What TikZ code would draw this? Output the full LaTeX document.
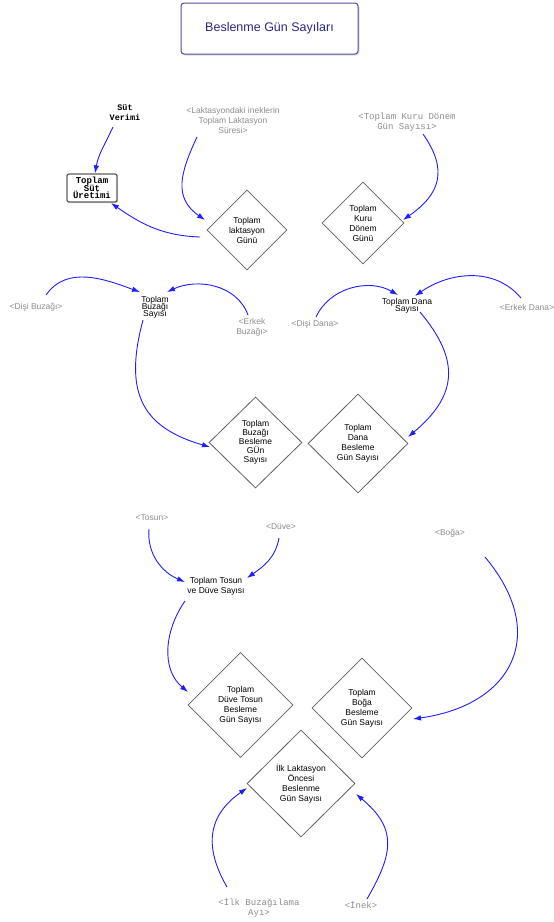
\documentclass[tikz,border=0pt]{standalone}
\usepackage{fontspec}
\setmainfont{Liberation Sans}
\setmonofont{Liberation Mono}
\usetikzlibrary{shapes.geometric,arrows.meta,shadows}
\definecolor{arrblue}{RGB}{30,30,255}
\definecolor{lblgray}{RGB}{140,140,140}
\definecolor{diamgray}{RGB}{95,95,95}
\definecolor{titleblue}{RGB}{80,80,160}
\definecolor{titletext}{RGB}{40,40,130}
\newcommand{\myneglskip}{\lineskiplimit=-20pt\relax}
\begin{document}
\begin{tikzpicture}[x=1pt,y=1pt,
  every node/.style={align=center, inner sep=1pt},
  lbl/.style={text=lblgray, font=\fontsize{8.5}{10}\selectfont},
  monolbl/.style={text=lblgray, font=\ttfamily\fontsize{9}{10}\selectfont},
  var/.style={font=\fontsize{8.5}{10}\selectfont},
  tight/.style={font={\fontsize{8.5}{7}\selectfont\myneglskip}},
  diam/.style={diamond, draw=diamgray, line width=0.8pt, inner sep=0pt, font=\fontsize{8.5}{10}\selectfont},
  arr/.style={draw=arrblue, line width=0.9pt, -{Latex[length=8pt,width=5.5pt]}},
  titlebox/.style={draw=titleblue, line width=1pt, rounded corners=3pt, fill=white,
    minimum width=177pt, minimum height=51pt, text=titletext, font=\fontsize{12.5}{14}\selectfont,
    drop shadow={opacity=0.3, shadow xshift=1.5pt, shadow yshift=-1.5pt}},
  levelbox/.style={draw=gray!75!black, line width=1.3pt, rounded corners=2pt, fill=white,
    minimum width=50pt, minimum height=28pt, inner sep=0pt,
    font={\ttfamily\bfseries\fontsize{9}{7.5}\selectfont\myneglskip},
    drop shadow={opacity=0.3, shadow xshift=1pt, shadow yshift=-1pt}},
]
\useasboundingbox (0,0) rectangle (554,-922);

% title
\node[titlebox] (title) at (269.5,-28.5) {Beslenme Gün Sayıları};

% row 1
\node[font=\ttfamily\bfseries\fontsize{8.5}{10}\selectfont] (sutv) at (125,-113) {Süt\\Verimi};
\node[levelbox] (surt) at (92,-188) {Toplam\\Süt\\Üretimi};
\node[lbl] (lak) at (233,-120) {<Laktasyondaki ineklerin\\Toplam Laktasyon\\Süresi>};
\node[diam, minimum width=80pt, minimum height=80pt] (dlak) at (247,-230) {Toplam\\laktasyon\\Günü};
\node[monolbl] (kuru) at (407,-122) {<Toplam Kuru Dönem\\Gün Sayısı>};
\node[diam, minimum width=82pt, minimum height=82pt] (dkuru) at (363,-223) {Toplam\\Kuru\\Dönem\\Günü};

% row 2
\node[lbl] (dbuz) at (36,-307) {<Dişi Buzağı>};
\node[tight] (tbuz) at (155,-307) {Toplam\\Buzağı\\Sayısı};
\node[lbl] (ebuz) at (252,-327) {<Erkek\\Buzağı>};
\node[diam, minimum width=93pt, minimum height=91pt, font=\fontsize{8.5}{9}\selectfont] (dbz) at (255.5,-442.5) {Toplam\\Buzağı\\Besleme\\GÜn\\Sayısı};
\node[lbl] (ddana) at (315,-324) {<Dişi Dana>};
\node[tight] (tdana) at (407,-306) {Toplam Dana\\Sayısı};
\node[lbl] (edana) at (527,-307) {<Erkek Dana>};
\node[diam, minimum width=100pt, minimum height=99pt] (dda) at (358,-443.5) {Toplam\\Dana\\Besleme\\Gün Sayısı};

% row 3
\node[lbl] (tosun) at (152,-518) {<Tosun>};
\node[lbl] (duve) at (281,-527) {<Düve>};
\node[var] (ttd) at (216,-586) {Toplam Tosun\\ve Düve Sayısı};
\node[diam, minimum width=105pt, minimum height=105pt] (dtd) at (240.5,-705) {Toplam\\Düve Tosun\\Besleme\\Gün Sayısı};
\node[lbl] (boga) at (450,-533) {<Boğa>};
\node[diam, minimum width=100pt, minimum height=100pt] (dbg) at (362,-708) {Toplam\\Boğa\\Besleme\\Gün Sayısı};

% row 4
\node[diam, minimum width=108pt, minimum height=107pt] (dilk) at (301,-783.5) {İlk Laktasyon\\Öncesi\\Beslenme\\Gün Sayısı};
\node[monolbl] (ilkb) at (259,-908) {<İlk Buzağılama\\Ayı>};
\node[monolbl] (inek) at (361,-905) {<İnek>};

% connectors
\draw[arr] ([shift={(-12,-14)}]sutv.center) to[out=-115,in=80] ([shift={(3,0)}]surt.north);
\draw[arr] ([shift={(-36,-17)}]lak.center) to[out=-115,in=145,looseness=1.2] ([shift={(-42,10)}]dlak.center);
\draw[arr] ([shift={(-47,-7)}]dlak.center) to[out=178,in=-35] ([shift={(19,-15)}]surt.center);
\draw[arr] ([shift={(16,-12)}]kuru.center) to[out=-55,in=35,looseness=1.3] ([shift={(40,3)}]dkuru.center);

\draw[arr] ([shift={(10,12)}]dbuz.center) to[out=55,in=160] ([shift={(-15,15)}]tbuz.center);
\draw[arr] ([shift={(-4,12)}]ebuz.center) to[out=110,in=25] ([shift={(12,15)}]tbuz.center);
\draw[arr] ([shift={(-12,-13)}]tbuz.center) to[out=-105,in=164,looseness=1.3] ([shift={(-45.5,-4.5)}]dbz.center);
\draw[arr] ([shift={(1,7)}]ddana.center) to[out=65,in=150] ([shift={(-9,11)}]tdana.center);
\draw[arr] ([shift={(-6,9)}]edana.center) to[out=130,in=35] ([shift={(8,10)}]tdana.center);
\draw[arr] ([shift={(13,-6)}]tdana.center) to[out=-50,in=40,looseness=1.3] ([shift={(50,6.5)}]dda.center);

\draw[arr] ([shift={(-3,-11)}]tosun.center) to[out=-95,in=157] ([shift={(-31,4)}]ttd.center);
\draw[arr] ([shift={(-2,-11)}]duve.center) to[out=-100,in=35] ([shift={(31,8)}]ttd.center);
\draw[arr] ([shift={(-31,-15)}]ttd.center) to[out=-125,in=140] ([shift={(-52.5,13)}]dtd.center);
\draw[arr] ([shift={(35,-24)}]boga.center) to[out=-50,in=8,looseness=1.45] ([shift={(51,-11)}]dbg.center);

\draw[arr] ([shift={(-32,21)}]ilkb.center) to[out=120,in=-145,looseness=1.2] ([shift={(-54,-4.5)}]dilk.center);
\draw[arr] ([shift={(6,6)}]inek.center) to[out=60,in=-40,looseness=1.3] ([shift={(55,-10.5)}]dilk.center);
\end{tikzpicture}
\end{document}
